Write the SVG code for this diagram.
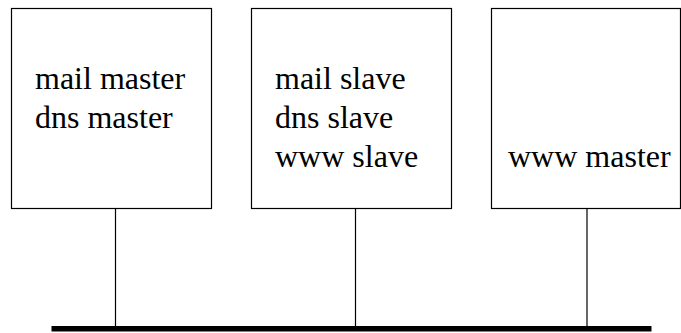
<svg xmlns="http://www.w3.org/2000/svg" width="681" height="333" viewBox="0 0 681 333">
<style>
.box{fill:#fff;stroke:#000;stroke-width:1.2}
.t{font-family:"Liberation Serif","Times New Roman",serif;font-size:32px;fill:#000}
.wire{stroke:#000;stroke-width:1.2;fill:none}
.bus{stroke:#000;stroke-width:5.5;fill:none}
</style>
<rect width="681" height="333" fill="#fff"/>
<g id="connectors">
<line class="wire" x1="115.5" y1="208.5" x2="115.5" y2="327"/>
<line class="wire" x1="355.5" y1="208.5" x2="355.5" y2="327"/>
<line class="wire" x1="587" y1="208.5" x2="587" y2="327"/>
<line class="bus" x1="51.5" y1="328.7" x2="651.5" y2="328.7"/>
</g>
<g id="node1">
<rect class="box" x="11.5" y="8.5" width="200" height="200"/>
<text class="t" x="35" y="89">mail master</text>
<text class="t" x="35" y="128">dns master</text>
</g>
<g id="node2">
<rect class="box" x="251.5" y="8.5" width="200" height="200"/>
<text class="t" x="275" y="88.5">mail slave</text>
<text class="t" x="275" y="128">dns slave</text>
<text class="t" x="275" y="167">www slave</text>
</g>
<g id="node3">
<rect class="box" x="491.5" y="8.5" width="189" height="200"/>
<text class="t" x="508" y="167">www master</text>
</g>
</svg>
